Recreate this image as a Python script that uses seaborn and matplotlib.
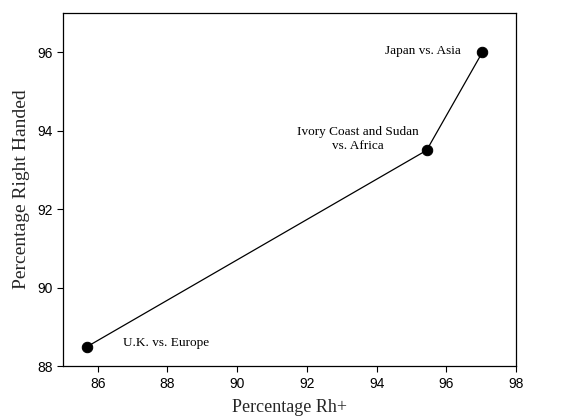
import matplotlib
matplotlib.use("Agg")
import matplotlib.pyplot as plt
import seaborn as sns
import pandas as pd

labels = ["U.K. vs. Europe", "Ivory Coast and Sudan\nvs. Africa", "Japan vs. Asia"]
rh_plus = [85.7, 95.43, 97.03]
right_handed = [88.5, 93.5, 96.0]
x_ticks = [86, 88, 90, 92, 94, 96, 98]
y_ticks = [88, 90, 92, 94, 96]

df = pd.DataFrame({"rh": rh_plus, "rhand": right_handed, "label": labels})

sns.set_style("ticks")
fig = plt.figure(figsize=(5.82, 4.18), dpi=100)
ax = fig.add_axes([0.108, 0.124, 0.779, 0.845])

sns.lineplot(data=df, x="rh", y="rhand", sort=False, color="black", linewidth=0.9,
             marker="o", markersize=7.5, markeredgecolor="black", ax=ax)

ax.set_xlim(85, 98)
ax.set_ylim(88, 97)
ax.set_xticks(x_ticks)
ax.set_yticks(y_ticks)
for lab in ax.get_xticklabels() + ax.get_yticklabels():
    lab.set_fontfamily("Liberation Sans")
    lab.set_fontsize(10)
ax.tick_params(direction="out", length=4, width=0.8, color="black", labelcolor="black")
for s in ax.spines.values():
    s.set_linewidth(0.9)
    s.set_color("black")

ax.set_xlabel("Percentage Rh+", fontfamily="Liberation Serif", fontsize=13, labelpad=6)
ax.set_ylabel("Percentage Right Handed", fontfamily="Liberation Serif", fontsize=14, labelpad=5)

tfont = dict(fontfamily="Liberation Serif", fontsize=9.5, color="black")
ax.text(96.42, 96.03, labels[2], ha="right", va="center", **tfont)
ax.text(93.45, 93.79, labels[1], ha="center", va="center", multialignment="center", **tfont)
ax.text(86.73, 88.59, labels[0], ha="left", va="center", **tfont)

fig.savefig("out.png", dpi=100)
